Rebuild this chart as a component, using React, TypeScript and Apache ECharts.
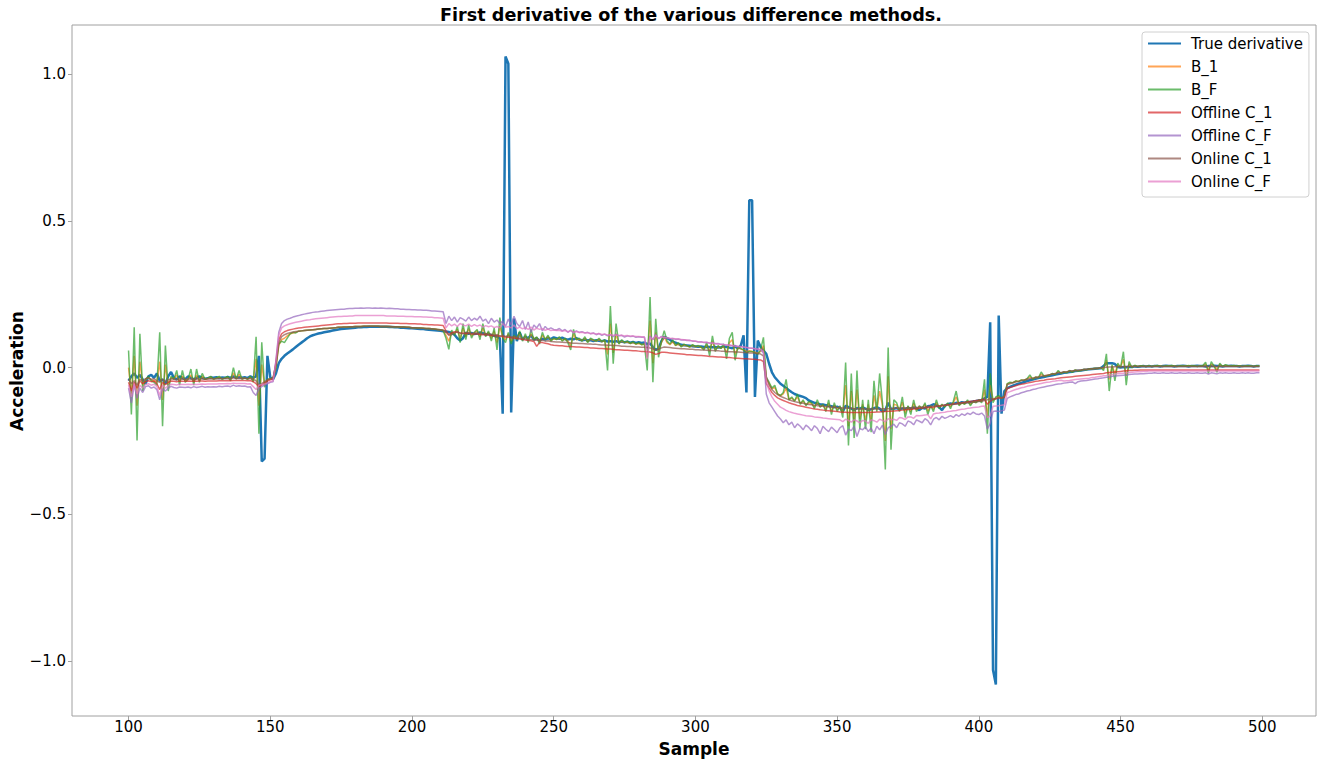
import React, { useEffect, useRef } from "react";
import * as echarts from "echarts";

// Values are in thousandths of the plotted unit (acceleration × 1000), sample index starts at 100.
const START_SAMPLE = 100;
const SCALE = 1000;

const seriesNames = ["True derivative", "B_1", "B_F", "Offline C_1", "Offline C_F", "Online C_1", "Online C_F"];
const seriesColors = ["#1f77b4", "#ff7f0e", "#2ca02c", "#d62728", "#9467bd", "#8c564b", "#e377c2"];

const xTicks = [100, 150, 200, 250, 300, 350, 400, 450, 500];
const yTicks = [-1.0, -0.5, 0.0, 0.5, 1.0];

const trueDerivative = [
  -45, -30, -20, -35, -25, -40, -55, -30, -25, -35,
  -20, -45, -40, -55, -30, -15, -35, -40, -30, -35,
  -40, -30, -35, -40, -35, -30, -35, -38, -36, -34,
  -35, -33, -36, -34, -35, -32, -35, -30, -35, -33,
  -35, -33, -36, -30, -35, -30, 40, -320, -310, 40,
  -33, -40, -20, 15, 30, 40, 48, 55, 62, 70,
  78, 85, 92, 100, 106, 110, 113, 116, 118, 120,
  122, 124, 126, 128, 130, 131, 132, 133, 134, 135,
  136, 137, 137, 138, 138, 139, 139, 139, 139, 139,
  139, 139, 138, 138, 137, 137, 136, 136, 135, 134,
  134, 133, 132, 131, 131, 130, 129, 128, 127, 126,
  125, 124, 123, 121, 118, 112, 100, 92, 100, 118,
  115, 118, 114, 116, 120, 117, 112, 115, 110, 108,
  105, 100, -157, 1060, 1035, -153, 167, 90, 120, 95,
  105, 100, 110, 95, 100, 92, 98, 95, 100, 97,
  103, 100, 98, 102, 97, 95, 98, 96, 100, 95,
  93, 95, 92, 94, 90, 93, 91, 90, 92, 89,
  90, 88, 90, 87, 89, 86, 88, 85, 87, 84,
  86, 84, 85, 80, 82, 70, 60, 65, 90, 105,
  100, 95, 88, 85, 80, 78, 76, 75, 74, 73,
  72, 71, 72, 70, 71, 70, 69, 70, 68, 69,
  72, 70, 68, 66, 72, 65, 75, 110, -85, 570,
  570, -100, 92, 70, 58, 47, 13, -16, -33, -44,
  -55, -62, -70, -77, -84, -90, -94, -97, -100, -104,
  -112, -116, -120, -123, -125, -126, -128, -130, -132, -135,
  -133, -137, -150, -130, -135, -140, -145, -138, -140, -136,
  -140, -145, -142, -138, -135, -140, -150, -145, -120, -142,
  -140, -138, -142, -139, -141, -137, -140, -136, -138, -145,
  -137, -140, -132, -130, -125, -128, -135, -145, -130, -125,
  -122, -124, -120, -122, -118, -120, -117, -118, -115, -114,
  -112, -110, -105, -100, 154, -1030, -1080, 177, -157, -80,
  -70, -66, -62, -58, -55, -52, -49, -46, -43, -41,
  -38, -36, -34, -32, -30, -28, -26, -24, -22, -20,
  -18, -17, -15, -14, -12, -11, -10, -8, -7, -6,
  -5, -4, -3, -2, 5, 15, 15, 15, 12, 2,
  0, 2, 1, 3, 2, 4, 3, 4, 5, 4,
  5, 4, 5, 5, 4, 5, 6, 5, 5, 4,
  5, 5, 6, 5, 4, 5, 5, 6, 5, 5,
  4, 5, 5, 6, 5, 5, 4, 5, 5, 6,
  5, 5, 4, 5, 5, 6, 5, 4, 5, 5,
];

const b1 = [
  0, -90, 40, -130, 20, -60, -40, -35, -42, -45,
  -50, 20, -110, 10, -60, -35, -38, -25, -48, -28,
  -45, -40, -25, -50, -25, -45, -30, -40, -37, -33,
  -39, -36, -33, -39, -36, -33, -42, -18, -38, -23,
  -38, -36, -39, -33, -45, 30, -130, 10, -60, -42,
  -38, -36, 0, 75, 95, 100, 108, 115, 118, 120,
  124, 125, 126, 127, 128, 129, 130, 131, 132, 133,
  133, 134, 135, 136, 137, 137, 138, 138, 139, 139,
  140, 140, 140, 141, 141, 141, 141, 141, 141, 140,
  140, 140, 140, 139, 139, 139, 138, 138, 137, 137,
  136, 136, 135, 135, 134, 133, 133, 132, 131, 130,
  129, 127, 110, 90, 120, 115, 130, 100, 135, 105,
  132, 108, 118, 125, 105, 135, 110, 120, 100, 125,
  85, 140, 105, 95, 115, 90, 105, 100, 115, 95,
  108, 92, 115, 98, 102, 90, 110, 97, 105, 93,
  98, 96, 100, 93, 97, 90, 75, 115, 95, 97,
  92, 100, 88, 97, 93, 90, 96, 88, 92, 45,
  150, 50, 115, 82, 90, 85, 87, 82, 85, 80,
  82, 78, 80, 35, 160, 15, 120, 55, 85, 105,
  85, 78, 88, 75, 80, 72, 77, 74, 70, 76,
  71, 73, 69, 63, 78, 55, 90, 60, 72, 66,
  72, 50, 85, 95, 45, 67, 63, 60, 55, 57,
  55, 52, 48, 55, 75, -40, -55, -72, -68, -90,
  -96, -90, -70, -108, -104, -113, -100, -122, -115, -126,
  -120, -123, -134, -120, -133, -128, -142, -122, -147, -128,
  -143, -134, -155, -60, -200, -80, -190, -75, -175, -125,
  -180, -125, -180, -95, -145, -80, -130, -250, -30, -210,
  -125, -128, -145, -118, -155, -133, -150, -122, -144, -132,
  -138, -126, -148, -131, -142, -120, -135, -127, -132, -124,
  -133, -120, -100, -127, -121, -123, -115, -125, -116, -118,
  -112, -116, -75, -170, -60, -112, -103, -99, -104, -99,
  -56, -52, -51, -47, -47, -43, -43, -39, -32, -38,
  -33, -34, -23, -29, -27, -25, -21, -22, -14, -19,
  -15, -16, -11, -14, -9, -11, -9, -7, -7, -5,
  -4, -3, -3, -1, -5, 25, -40, 6, -20, 9,
  2, 28, -28, 12, 2, 6, 4, 5, 5, 4,
  5, 4, 5, 6, 5, 4, 5, 5, 6, 5,
  4, 5, 5, 5, 6, 5, 5, 4, 5, 5,
  12, -8, 12, 5, -6, 10, 4, 7, 5, 5,
  6, 5, 5, 4, 5, 5, 5, 4, 5, 5,
];

const bF = [
  58, -160, 137, -248, 115, -80, -40, -30, -45, -50,
  -60, 120, -200, 75, -80, -30, -40, -10, -60, -10,
  -50, -40, -5, -60, -5, -50, -20, -40, -35, -30,
  -40, -35, -30, -40, -35, -30, -45, 0, -40, -10,
  -40, -35, -40, -30, -50, 105, -225, 86, -67, -40,
  -38, -35, 0, 80, 90, 85, 100, 115, 120, 118,
  124, 125, 126, 127, 128, 129, 130, 131, 132, 133,
  133, 134, 135, 136, 137, 137, 138, 138, 139, 139,
  140, 140, 140, 141, 141, 141, 141, 141, 141, 140,
  140, 140, 140, 139, 139, 139, 138, 138, 137, 137,
  136, 136, 135, 135, 134, 133, 133, 132, 131, 130,
  129, 126, 100, 62, 128, 110, 140, 85, 150, 95,
  145, 100, 120, 130, 95, 150, 105, 125, 90, 135,
  60, 170, 100, 85, 120, 80, 110, 95, 125, 90,
  115, 85, 130, 95, 105, 80, 120, 95, 110, 90,
  100, 95, 105, 90, 100, 85, 60, 130, 95, 100,
  90, 105, 85, 100, 95, 90, 100, 88, 95, -10,
  210, 13, 150, 80, 95, 85, 90, 82, 88, 80,
  85, 78, 80, -10, 240, -50, 166, 35, 90, 126,
  90, 80, 95, 75, 85, 70, 80, 75, 70, 78,
  72, 75, 70, 60, 86, 40, 108, 55, 75, 65,
  80, 30, 100, 120, 25, 70, 65, 60, 50, 55,
  55, 50, 45, 60, 103, -33, -50, -70, -60, -90,
  -95, -85, -40, -110, -100, -115, -90, -125, -110, -130,
  -115, -120, -140, -110, -135, -125, -150, -110, -160, -120,
  -150, -130, -170, 17, -265, -20, -240, -10, -210, -110,
  -210, -110, -220, -45, -150, -20, -120, -347, 68, -280,
  -110, -120, -150, -100, -170, -130, -160, -110, -150, -130,
  -140, -120, -160, -130, -150, -110, -140, -125, -135, -120,
  -140, -115, -80, -130, -120, -125, -110, -130, -115, -120,
  -110, -120, -40, -225, -20, -120, -100, -95, -105, -98,
  -55, -50, -52, -45, -48, -42, -44, -38, -25, -40,
  -32, -35, -15, -30, -28, -25, -20, -24, -10, -20,
  -15, -18, -10, -16, -8, -12, -10, -6, -8, -4,
  -4, -2, -3, 0, -10, 47, -80, 10, -45, 15,
  0, 54, -60, 20, 0, 8, 3, 6, 5, 4,
  6, 4, 5, 7, 5, 4, 6, 5, 7, 5,
  4, 6, 5, 5, 7, 5, 6, 4, 5, 6,
  18, -20, 20, 5, -16, 15, 4, 10, 6, 5,
  7, 5, 6, 4, 5, 6, 5, 4, 6, 5,
];

const offlineC1 = [
  -50, -80, -50, -70, -45, -55, -48, -45, -48, -46,
  -55, -75, -50, -58, -50, -46, -47, -48, -46, -47,
  -47, -46, -47, -46, -47, -46, -46, -47, -46, -46,
  -46, -46, -45, -45, -45, -45, -45, -44, -44, -44,
  -44, -44, -45, -45, -48, -55, -65, -60, -52, -46,
  -42, -38, 15, 95, 115, 122, 126, 129, 131, 133,
  135, 136, 137, 138, 139, 140, 141, 142, 143, 144,
  145, 146, 147, 148, 149, 149, 150, 150, 151, 151,
  151, 152, 152, 152, 152, 152, 152, 152, 152, 152,
  152, 152, 151, 151, 151, 151, 150, 150, 150, 149,
  149, 149, 148, 148, 147, 147, 146, 146, 145, 145,
  144, 143, 125, 112, 118, 122, 120, 118, 117, 116,
  116, 115, 114, 115, 113, 112, 113, 111, 110, 108,
  109, 107, 106, 104, 103, 102, 100, 99, 97, 96,
  94, 92, 91, 89, 72, 86, 85, 83, 81, 78,
  76, 75, 74, 74, 73, 72, 72, 71, 70, 70,
  69, 68, 68, 67, 67, 66, 65, 65, 64, 63,
  63, 62, 61, 61, 60, 59, 59, 58, 57, 57,
  56, 55, 55, 54, 53, 50, 45, 48, 52, 52,
  51, 50, 49, 48, 47, 46, 45, 44, 44, 43,
  42, 41, 41, 40, 39, 38, 38, 37, 36, 36,
  35, 34, 34, 33, 32, 32, 31, 30, 30, 29,
  28, 28, 27, 26, 20, -55, -70, -85, -95, -103,
  -108, -112, -116, -120, -123, -126, -129, -131, -133, -135,
  -137, -139, -141, -142, -144, -145, -146, -147, -148, -149,
  -150, -151, -152, -152, -153, -153, -153, -153, -153, -153,
  -153, -153, -152, -152, -151, -151, -150, -150, -149, -149,
  -148, -147, -146, -145, -144, -143, -142, -141, -140, -139,
  -138, -137, -136, -135, -134, -133, -131, -130, -128, -127,
  -126, -124, -123, -121, -120, -118, -117, -115, -114, -112,
  -111, -110, -108, -125, -115, -108, -106, -104, -103, -102,
  -72, -68, -65, -62, -59, -57, -55, -53, -51, -49,
  -47, -46, -44, -43, -41, -40, -39, -38, -36, -35,
  -34, -33, -32, -31, -30, -29, -28, -27, -26, -25,
  -24, -23, -22, -21, -20, -18, -17, -16, -15, -14,
  -13, -12, -11, -10, -10, -9, -9, -8, -8, -8,
  -8, -8, -8, -8, -8, -8, -8, -8, -8, -8,
  -8, -8, -8, -8, -8, -8, -8, -8, -8, -8,
  -8, -8, -8, -8, -8, -8, -8, -8, -8, -8,
  -8, -8, -8, -8, -8, -8, -8, -8, -8, -8,
];

const offlineCF = [
  -70, -120, -60, -105, -70, -85, -65, -62, -70, -66,
  -75, -110, -72, -80, -70, -64, -68, -70, -66, -67,
  -68, -66, -69, -65, -68, -66, -64, -67, -65, -66,
  -65, -66, -64, -65, -64, -63, -65, -60, -64, -62,
  -64, -63, -66, -65, -85, -95, -70, -65, -60, -55,
  -50, -48, 25, 120, 150, 160, 165, 168, 172, 175,
  177, 180, 182, 184, 186, 188, 189, 190, 192, 193,
  194, 195, 196, 197, 198, 199, 199, 200, 201, 201,
  202, 202, 203, 202, 203, 203, 202, 203, 202, 203,
  202, 201, 202, 201, 200, 200, 199, 199, 198, 198,
  197, 197, 196, 196, 195, 195, 194, 193, 193, 192,
  191, 190, 150, 175, 160, 172, 155, 170, 165, 158,
  172, 160, 168, 162, 175, 158, 165, 150, 168, 155,
  162, 150, 158, 140, 165, 145, 175, 150, 140, 160,
  130, 155, 120, 145, 135, 150, 125, 140, 130, 135,
  130, 128, 133, 125, 130, 120, 128, 118, 125, 120,
  122, 118, 120, 115, 118, 112, 116, 110, 114, 108,
  112, 105, 113, 108, 110, 104, 108, 106, 107, 103,
  105, 103, 104, 60, 108, 95, 112, 98, 106, 100,
  100, 98, 99, 96, 97, 94, 95, 92, 93, 90,
  90, 87, 88, 85, 86, 83, 84, 81, 82, 79,
  79, 76, 77, 74, 75, 72, 72, 70, 69, 67,
  66, 64, 62, 60, 50, -90, -120, -135, -150, -165,
  -175, -188, -178, -195, -186, -205, -192, -200, -212, -196,
  -204, -215, -198, -207, -225, -200, -210, -218, -203, -212,
  -222, -205, -198, -230, -210, -215, -200, -235, -208, -212,
  -202, -218, -206, -225, -200, -212, -196, -228, -205, -200,
  -193, -205, -188, -192, -200, -182, -186, -195, -178, -183,
  -188, -174, -181, -195, -176, -170, -178, -166, -173, -169,
  -164, -170, -160, -166, -158, -163, -155, -160, -152, -158,
  -160, -155, -165, -210, -190, -150, -148, -150, -147, -145,
  -105, -100, -96, -92, -90, -86, -83, -80, -78, -75,
  -73, -70, -68, -66, -64, -62, -60, -58, -56, -55,
  -53, -52, -50, -49, -55, -48, -46, -45, -44, -42,
  -41, -39, -38, -36, -35, -33, -32, -30, -29, -28,
  -27, -26, -25, -24, -23, -22, -22, -21, -21, -20,
  -19, -19, -18, -19, -19, -18, -19, -19, -18, -19,
  -19, -18, -19, -19, -18, -19, -19, -18, -19, -19,
  -18, -22, -18, -19, -21, -18, -19, -18, -19, -19,
  -18, -19, -19, -18, -19, -18, -19, -19, -18, -18,
];

const onlineC1 = [
  -40, -55, -45, -60, -40, -45, -38, -35, -40, -38,
  -45, -50, -40, -48, -42, -38, -40, -42, -38, -40,
  -40, -38, -40, -39, -40, -38, -39, -40, -38, -39,
  -38, -39, -38, -37, -38, -37, -38, -35, -37, -36,
  -37, -36, -38, -37, -40, -45, -60, -55, -48, -42,
  -38, -35, 10, 85, 105, 112, 116, 119, 121, 123,
  124, 125, 126, 127, 128, 129, 130, 131, 132, 133,
  133, 134, 135, 136, 137, 137, 138, 138, 139, 139,
  140, 140, 140, 141, 141, 141, 141, 141, 141, 140,
  140, 140, 140, 139, 139, 139, 138, 138, 137, 137,
  136, 136, 135, 135, 134, 133, 133, 132, 131, 130,
  129, 128, 120, 110, 112, 118, 122, 118, 115, 120,
  118, 116, 118, 115, 117, 114, 116, 112, 114, 110,
  112, 108, 110, 106, 108, 104, 105, 103, 100, 98,
  97, 95, 96, 93, 94, 92, 93, 90, 91, 89,
  88, 87, 87, 86, 85, 85, 84, 83, 83, 82,
  82, 81, 80, 80, 79, 79, 78, 77, 77, 76,
  76, 75, 75, 74, 73, 73, 72, 72, 71, 70,
  70, 69, 69, 68, 67, 63, 60, 62, 67, 70,
  69, 68, 67, 66, 65, 64, 64, 63, 62, 62,
  61, 61, 60, 60, 59, 58, 58, 57, 57, 56,
  56, 55, 54, 54, 53, 53, 52, 51, 51, 50,
  50, 49, 48, 46, 40, -30, -60, -75, -85, -92,
  -98, -102, -106, -110, -113, -116, -118, -120, -122, -124,
  -126, -127, -128, -130, -131, -132, -133, -134, -134, -135,
  -136, -137, -138, -138, -139, -139, -140, -140, -140, -141,
  -141, -141, -141, -141, -141, -141, -140, -140, -140, -140,
  -139, -139, -139, -138, -138, -137, -137, -136, -136, -135,
  -135, -134, -133, -133, -132, -131, -130, -129, -128, -127,
  -126, -125, -124, -123, -122, -121, -120, -119, -118, -117,
  -116, -115, -112, -110, -105, -108, -106, -104, -103, -100,
  -58, -55, -52, -49, -47, -44, -42, -40, -38, -36,
  -34, -32, -30, -28, -26, -24, -22, -20, -18, -17,
  -15, -14, -12, -11, -10, -9, -8, -7, -6, -5,
  -4, -3, -2, -1, 0, 1, 2, 2, 3, 3,
  3, 3, 4, 4, 4, 4, 4, 4, 4, 4,
  4, 4, 4, 4, 4, 4, 4, 4, 4, 4,
  4, 4, 4, 4, 4, 4, 4, 4, 4, 4,
  4, 4, 4, 4, 4, 4, 4, 4, 4, 4,
  4, 4, 4, 4, 4, 4, 4, 4, 4, 4,
];

const onlineCF = [
  -60, -100, -55, -90, -60, -70, -58, -55, -60, -57,
  -65, -95, -60, -70, -62, -57, -58, -59, -57, -58,
  -58, -57, -58, -57, -58, -57, -56, -57, -56, -56,
  -56, -56, -55, -55, -55, -54, -55, -53, -54, -54,
  -54, -54, -56, -55, -65, -75, -60, -58, -56, -52,
  -48, -45, 20, 110, 135, 142, 146, 149, 152, 154,
  156, 158, 160, 162, 163, 165, 166, 167, 168, 169,
  170, 171, 172, 173, 174, 174, 175, 175, 176, 176,
  177, 177, 177, 177, 177, 177, 177, 177, 177, 177,
  177, 176, 176, 176, 176, 175, 175, 175, 174, 174,
  174, 173, 173, 173, 172, 172, 171, 171, 170, 170,
  169, 168, 135, 150, 142, 148, 140, 150, 145, 142,
  148, 140, 146, 141, 145, 138, 143, 139, 142, 136,
  140, 135, 150, 137, 140, 135, 145, 133, 138, 132,
  136, 130, 138, 128, 134, 130, 133, 127, 131, 126,
  128, 126, 127, 124, 126, 122, 125, 120, 123, 119,
  120, 118, 119, 116, 117, 114, 116, 113, 114, 111,
  112, 110, 111, 109, 110, 108, 109, 107, 108, 106,
  106, 105, 104, 30, 104, 95, 110, 100, 104, 103,
  102, 100, 99, 98, 97, 96, 95, 94, 92, 91,
  90, 88, 87, 86, 85, 84, 83, 82, 80, 79,
  78, 77, 76, 75, 73, 72, 71, 70, 68, 67,
  66, 64, 63, 62, 55, -45, -80, -100, -115, -125,
  -135, -140, -146, -150, -153, -156, -158, -160, -162, -164,
  -165, -166, -168, -169, -170, -172, -173, -174, -175, -176,
  -177, -178, -184, -176, -180, -186, -178, -182, -188, -180,
  -182, -190, -178, -181, -186, -176, -180, -185, -174, -178,
  -176, -180, -170, -172, -177, -168, -168, -173, -163, -164,
  -163, -162, -160, -175, -158, -156, -155, -153, -152, -150,
  -149, -147, -146, -144, -142, -141, -139, -138, -136, -135,
  -134, -132, -131, -170, -165, -132, -131, -130, -128, -127,
  -85, -82, -78, -75, -72, -69, -67, -64, -62, -60,
  -58, -56, -54, -52, -50, -49, -47, -46, -44, -43,
  -46, -45, -44, -42, -41, -40, -39, -38, -37, -36,
  -34, -33, -31, -30, -28, -27, -25, -24, -22, -21,
  -20, -19, -18, -17, -16, -15, -14, -14, -13, -13,
  -12, -12, -12, -12, -12, -12, -12, -12, -12, -12,
  -12, -12, -12, -12, -12, -12, -12, -12, -12, -12,
  -12, -12, -12, -12, -12, -12, -12, -12, -12, -12,
  -12, -12, -12, -12, -12, -12, -12, -12, -12, -12,
];

const allValues = [trueDerivative, b1, bF, offlineC1, offlineCF, onlineC1, onlineCF];

const FONT = "DejaVu Sans";
const AXIS_GREY = "#a0a0a0";

function fmtY(v: number): string {
  const s = Math.abs(v).toFixed(1);
  return v < 0 ? "\u2212" + s : s;
}

export default function App() {
  const ref = useRef<HTMLDivElement>(null);

  useEffect(() => {
    if (!ref.current) return;
    const chart = echarts.init(ref.current, null, { renderer: "svg" });

    const series = allValues.map((vals, k) => ({
      name: seriesNames[k],
      type: "line",
      data: vals.map((v, i) => [START_SAMPLE + i, v / SCALE]),
      symbol: "none",
      showSymbol: false,
      z: 2,
      lineStyle: {
        color: seriesColors[k],
        width: k === 0 ? 2.5 : 1.5,
        opacity: k === 0 ? 1 : 0.7,
      },
      itemStyle: { color: seriesColors[k], opacity: k === 0 ? 1 : 0.7 },
      emphasis: { disabled: true },
    }));

    chart.setOption({
      animation: false,
      backgroundColor: "#ffffff",
      grid: {
        left: 72,
        right: 5,
        top: 25,
        bottom: 46,
        show: true,
        borderColor: AXIS_GREY,
        borderWidth: 1,
        containLabel: false,
        outerBoundsMode: "none",
      },
      xAxis: {
        type: "value",
        min: 80.05,
        max: 518.95,
        position: "bottom",
        axisLine: { show: false, onZero: false },
        splitLine: { show: false },
        axisTick: { show: true, length: 4, lineStyle: { color: AXIS_GREY }, customValues: xTicks },
        axisLabel: {
          customValues: xTicks,
          margin: 3,
          fontSize: 15,
          fontFamily: FONT,
          color: "#000",
          formatter: (v: number) => String(v),
        },
      },
      yAxis: {
        type: "value",
        min: -1.187,
        max: 1.167,
        position: "left",
        axisLine: { show: false, onZero: false },
        splitLine: { show: false },
        axisTick: { show: true, length: 4, lineStyle: { color: AXIS_GREY }, customValues: yTicks },
        axisLabel: {
          customValues: yTicks,
          margin: 6,
          fontSize: 15,
          fontFamily: FONT,
          color: "#000",
          formatter: (v: number) => fmtY(v),
        },
      },
      legend: {
        show: true,
        orient: "vertical",
        left: 1142,
        top: 32,
        data: seriesNames,
        backgroundColor: "#ffffff",
        borderColor: "#d0d0d0",
        borderWidth: 1,
        borderRadius: 3,
        padding: [4, 6, 8, 5],
        itemGap: 8,
        itemWidth: 33,
        itemHeight: 14,
        itemStyle: { opacity: 0 },
        textStyle: { fontSize: 15, fontFamily: FONT, color: "#000", padding: [0, 0, 0, 5] },
        selectedMode: false,
      },
      graphic: [
        {
          type: "text",
          style: {
            text: "First derivative of the various difference methods.",
            x: 691,
            y: 15,
            textAlign: "center",
            textVerticalAlign: "middle",
            font: `bold 17.6px "${FONT}"`,
            fill: "#000",
          },
        },
        {
          type: "text",
          style: {
            text: "Sample",
            x: 694,
            y: 749,
            textAlign: "center",
            textVerticalAlign: "middle",
            font: `bold 17px "${FONT}"`,
            fill: "#000",
          },
        },
        {
          type: "text",
          x: 17,
          y: 371,
          rotation: Math.PI / 2,
          style: {
            text: "Acceleration",
            x: 0,
            y: 0,
            textAlign: "center",
            textVerticalAlign: "middle",
            font: `bold 17px "${FONT}"`,
            fill: "#000",
          },
        },
      ],
      series,
    });

    return () => chart.dispose();
  }, []);

  return (
    <div
      ref={ref}
      style={{ position: "absolute", left: 0, top: 0, width: 1321, height: 762 }}
    />
  );
}
